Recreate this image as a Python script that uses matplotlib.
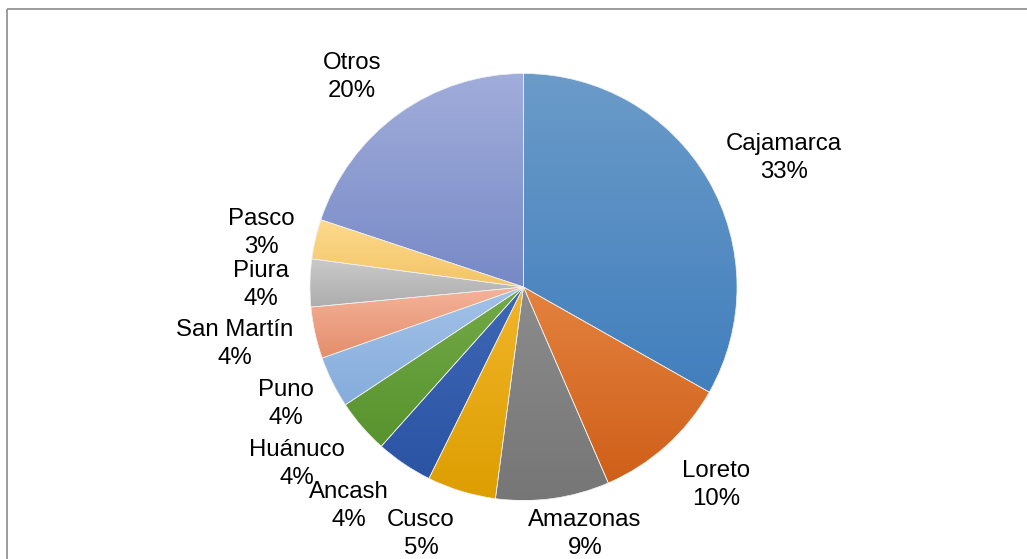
import numpy as np
import matplotlib.pyplot as plt
from matplotlib.colors import LinearSegmentedColormap

# Share by region (percent)
regions = ["Cajamarca", "Loreto", "Amazonas", "Cusco", "Ancash", "Huánuco",
           "Puno", "San Martín", "Piura", "Pasco", "Otros"]
shares = [33.2, 10.3, 8.6, 5.2, 4.3, 4.1, 3.9, 3.9, 3.6, 3.0, 19.9]

# Vertical gradient for each slice (top colour, bottom colour)
slice_gradients = [
    ("#6b9bc9", "#417fbd"), ("#e3823f", "#cf5f18"), ("#8c8c8c", "#767676"),
    ("#f2b52a", "#dc9e00"), ("#3e68b6", "#2b55a4"), ("#72aa47", "#58932e"),
    ("#a3c2e8", "#85acdc"), ("#f5b39a", "#e48e6c"), ("#cacaca", "#adadad"),
    ("#fdda8e", "#f3c466"), ("#a1addb", "#7789c6"),
]

# Label anchor positions in pixels (x, y from top)
label_pos = [(784, 158), (716, 485), (585, 534), (421, 534), (349, 506),
             (297, 464), (286, 404), (235, 344), (261, 233 + 52), (261, 233),
             (352, 77)]

W, H = 1027, 559
fig = plt.figure(figsize=(W / 100, H / 100), dpi=100)
ax = fig.add_axes([0, 0, 1, 1])

cx, cy, r = 523.5, H - 287, 213.5
wedges, _ = ax.pie(shares, startangle=90, counterclock=False,
                   center=(cx, cy), radius=r,
                   wedgeprops=dict(edgecolor="#f0f0f0", linewidth=0.5))

grad = np.linspace(0, 1, 256).reshape(-1, 1)
for w, (top, bot) in zip(wedges, slice_gradients):
    bb = w.get_path().get_extents()
    cmap = LinearSegmentedColormap.from_list("g", [top, bot])
    im = ax.imshow(grad, cmap=cmap, extent=(bb.x0, bb.x1, bb.y0, bb.y1),
                   origin="upper", aspect="auto", interpolation="bilinear",
                   zorder=1)
    im.set_clip_path(w)
    w.set_facecolor("none")
    w.set_zorder(2)

for name, val, (x, y) in zip(regions, shares, label_pos):
    ax.text(x, H - y, f"{name}\n{val:.0f}%", ha="center", va="center",
            fontsize=17.3, family="Liberation Sans", color="black",
            linespacing=1.33, zorder=3)

# Chart frame
ax.plot([6.5, W], [H - 8.5, H - 8.5], color="#9c9c9c", lw=1.4,
        solid_capstyle="butt", zorder=3)
ax.plot([6.5, 6.5], [H - 8.5, 0], color="#9c9c9c", lw=1.4,
        solid_capstyle="butt", zorder=3)

ax.set_xlim(0, W)
ax.set_ylim(0, H)
ax.set_aspect("auto")
ax.axis("off")
fig.savefig("out.png", dpi=100, facecolor="white")
